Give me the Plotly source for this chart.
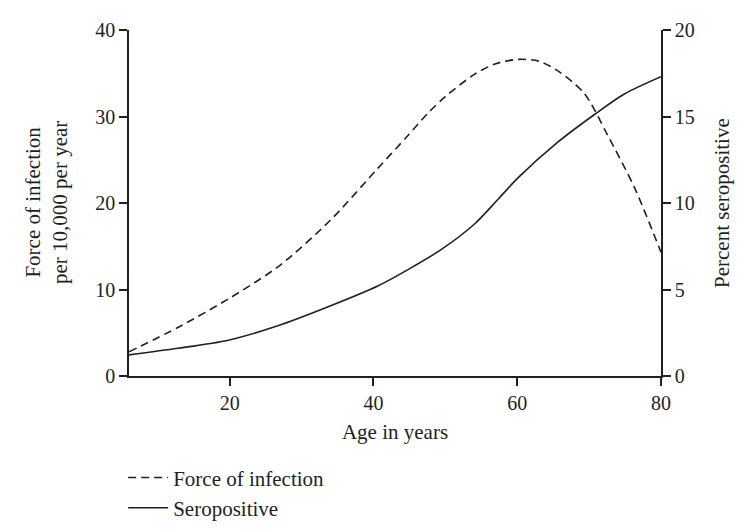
import plotly.graph_objects as go

# Force of infection (per 10,000 per year), left axis
foi_age = [6, 13, 20, 27, 34, 40.6, 44.8, 47.6, 50, 54.1, 57, 60.1, 63, 65.6, 69.3, 72.6, 76.3, 80]
foi_val = [2.8, 5.7, 9.0, 12.8, 18.0, 24.0, 27.8, 30.4, 32.3, 34.9, 36.1, 36.6, 36.4, 35.3, 32.7, 27.8, 21.8, 14.3]

# Percent seropositive, right axis
sero_age = [6, 12.8, 19.8, 26.7, 33.7, 40.6, 44.8, 49.4, 54.1, 57.3, 60.1, 65.6, 70.7, 74.9, 80]
sero_val = [1.22, 1.6, 2.07, 2.9, 4.0, 5.2, 6.15, 7.3, 8.8, 10.2, 11.45, 13.5, 15.1, 16.3, 17.3]

x_ticks = [20, 40, 60, 80]
y_left_ticks = [0, 10, 20, 30, 40]
y_right_ticks = [0, 5, 10, 15, 20]

FONT = "Liberation Serif"
INK = "#231f20"

fig = go.Figure()
fig.add_trace(go.Scatter(
    x=foi_age, y=foi_val, name="Force of infection", mode="lines",
    line=dict(color=INK, width=1.6, dash="8px,5px", shape="spline", smoothing=0.8),
    yaxis="y"))
fig.add_trace(go.Scatter(
    x=sero_age, y=sero_val, name="Seropositive", mode="lines",
    line=dict(color=INK, width=1.6, shape="spline", smoothing=0.8),
    yaxis="y2"))

axis_common = dict(showline=True, linecolor=INK, linewidth=1.6, ticks="outside",
                   ticklen=8, tickwidth=1.6, tickcolor=INK, showgrid=False,
                   zeroline=False, tickfont=dict(family=FONT, size=20, color=INK))

fig.update_layout(
    width=744, height=532,
    margin=dict(l=121, r=91, t=22, b=155),
    plot_bgcolor="white", paper_bgcolor="white",
    font=dict(family=FONT, size=21, color=INK),
    xaxis=dict(range=[6, 80], tickvals=x_ticks, **axis_common,
               title=dict(text="Age in years", font=dict(family=FONT, size=21, color=INK), standoff=12)),
    yaxis=dict(range=[0, 40], tickvals=y_left_ticks, **axis_common),
    yaxis2=dict(range=[0, 20], tickvals=y_right_ticks, overlaying="y", side="right", **axis_common),
    legend=dict(x=-0.011, y=-0.235, xanchor="left", yanchor="top",
                font=dict(family=FONT, size=21, color=INK), bgcolor="rgba(0,0,0,0)",
                itemwidth=40, tracegroupgap=0),
    showlegend=True,
)

fig.add_annotation(text="Force of infection<br>per 10,000 per year", textangle=-90,
                   xref="paper", yref="paper", x=(38 - 121) / 532, y=0.5,
                   xanchor="center", yanchor="middle", showarrow=False,
                   font=dict(family=FONT, size=21, color=INK))
fig.add_annotation(text="Percent seropositive", textangle=-90,
                   xref="paper", yref="paper", x=(714 - 121) / 532, y=0.5,
                   xanchor="center", yanchor="middle", showarrow=False,
                   font=dict(family=FONT, size=21, color=INK))

fig.write_html("out.html")
